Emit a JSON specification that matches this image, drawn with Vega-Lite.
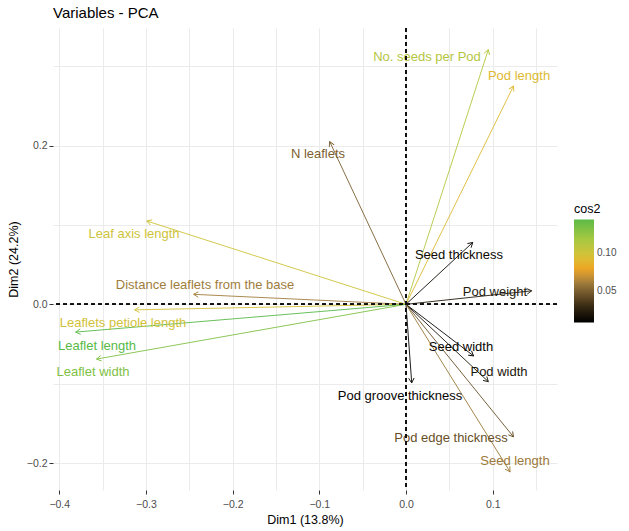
{
  "$schema": "https://vega.github.io/schema/vega-lite/v6.json",
  "width": 504,
  "height": 462,
  "autosize": {"type": "none"},
  "padding": {"left": 53, "top": 28, "right": 72, "bottom": 41},
  "title": {"text": "Variables - PCA", "anchor": "start", "frame": "group", "fontSize": 15, "fontWeight": "normal", "color": "#000000", "offset": 7},
  "config": {"font": "Liberation Sans", "view": {"stroke": null}},
  "data": {"values": [
    {"name": "No. seeds per Pod", "x": 0.095, "y": 0.321, "lx": 0.0242, "ly": 0.3117, "cos2": 0.1121},
    {"name": "Pod length", "x": 0.124, "y": 0.275, "lx": 0.1304, "ly": 0.2877, "cos2": 0.0910},
    {"name": "N leaflets", "x": -0.088, "y": 0.205, "lx": -0.1015, "ly": 0.1894, "cos2": 0.0498},
    {"name": "Seed thickness", "x": 0.077, "y": 0.078, "lx": 0.0611, "ly": 0.0621, "cos2": 0.0120},
    {"name": "Leaf axis length", "x": -0.299, "y": 0.105, "lx": -0.3137, "ly": 0.0886, "cos2": 0.1004},
    {"name": "Distance leaflets from the base", "x": -0.245, "y": 0.0126, "lx": -0.2318, "ly": 0.0243, "cos2": 0.0602},
    {"name": "Leaflets petiole length", "x": -0.313, "y": -0.007, "lx": -0.3264, "ly": -0.0236, "cos2": 0.0980},
    {"name": "Leaflet length", "x": -0.381, "y": -0.035, "lx": -0.3564, "ly": -0.0526, "cos2": 0.1464},
    {"name": "Leaflet width", "x": -0.357, "y": -0.069, "lx": -0.3610, "ly": -0.0854, "cos2": 0.1322},
    {"name": "Pod weight", "x": 0.145, "y": 0.017, "lx": 0.1027, "ly": 0.0155, "cos2": 0.0213},
    {"name": "Seed width", "x": 0.078, "y": -0.065, "lx": 0.0634, "ly": -0.0539, "cos2": 0.0103},
    {"name": "Pod width", "x": 0.095, "y": -0.0975, "lx": 0.1073, "ly": -0.0854, "cos2": 0.0185},
    {"name": "Pod groove thickness", "x": 0.0066, "y": -0.099, "lx": -0.0069, "ly": -0.1156, "cos2": 0.0098},
    {"name": "Pod edge thickness", "x": 0.124, "y": -0.167, "lx": 0.0519, "ly": -0.1685, "cos2": 0.0433},
    {"name": "Seed length", "x": 0.120, "y": -0.211, "lx": 0.1257, "ly": -0.1975, "cos2": 0.0589}
  ]},
  "transform": [
    {"calculate": "atan2(datum.x * 866.9, datum.y * 793.5) * 180 / PI", "as": "angle"}
  ],
  "layer": [
    {
      "mark": {"type": "rule", "strokeWidth": 0.9},
      "encoding": {
        "x": {"field": "x", "type": "quantitative",
          "scale": {"domain": [-0.4072, 0.1742], "nice": false, "zero": false},
          "axis": {
            "title": "Dim1 (13.8%)", "titleFontSize": 12.5, "titleFontWeight": "normal", "titleColor": "#000000", "titlePadding": 4,
            "values": [-0.4, -0.35, -0.3, -0.25, -0.2, -0.15, -0.1, -0.05, 0, 0.05, 0.1, 0.15],
            "labelExpr": "abs(datum.value * 10 - round(datum.value * 10)) > 0.01 ? '' : format(datum.value, '.1f')",
            "labelFlush": false, "labelOverlap": false, "labelFontSize": 10.5, "labelColor": "#4D4D4D", "labelPadding": 5,
            "domain": false, "grid": true, "gridColor": "#EBEBEB", "gridWidth": 1,
            "tickSize": 4, "tickWidth": 1,
            "tickColor": {"condition": {"test": "abs(datum.value * 10 - round(datum.value * 10)) > 0.01", "value": "transparent"}, "value": "#333333"}
          }
        },
        "y": {"field": "y", "type": "quantitative",
          "scale": {"domain": [-0.234, 0.3482], "nice": false, "zero": false},
          "axis": {
            "title": "Dim2 (24.2%)", "titleFontSize": 12.5, "titleFontWeight": "normal", "titleColor": "#000000", "titlePadding": 6,
            "values": [-0.2, -0.1, 0, 0.1, 0.2, 0.3],
            "labelExpr": "abs(datum.value * 5 - round(datum.value * 5)) > 0.01 ? '' : format(datum.value, '.1f')",
            "labelFlush": false, "labelOverlap": false, "labelFontSize": 10.5, "labelColor": "#4D4D4D", "labelPadding": 2,
            "domain": false, "grid": true, "gridColor": "#EBEBEB", "gridWidth": 1,
            "tickSize": 4, "tickWidth": 1,
            "tickColor": {"condition": {"test": "abs(datum.value * 5 - round(datum.value * 5)) > 0.01", "value": "transparent"}, "value": "#333333"}
          }
        },
        "x2": {"datum": 0},
        "y2": {"datum": 0},
        "stroke": {
          "field": "cos2", "type": "quantitative",
          "scale": {
            "domain": [0.00749, 0.03, 0.05, 0.065, 0.077, 0.09, 0.10, 0.12, 0.145],
            "range": ["#000000", "#3A2C14", "#7D6030", "#B08A40", "#F0A020", "#E0B830", "#CFC33A", "#A3C842", "#5CBA47"],
            "interpolate": "rgb"
          },
          "legend": null
        }
      }
    },
    {
      "mark": {"type": "point", "shape": "M-0.577,1L0,0L0.577,1", "filled": false, "fill": null, "strokeWidth": 0.9, "size": 90, "opacity": 1},
      "encoding": {
        "x": {"field": "x", "type": "quantitative"},
        "y": {"field": "y", "type": "quantitative"},
        "angle": {"field": "angle", "type": "quantitative", "scale": null},
        "stroke": {"field": "cos2", "type": "quantitative", "legend": null}
      }
    },
    {
      "mark": {"type": "text", "fontSize": 13, "align": "center", "baseline": "middle"},
      "encoding": {
        "x": {"field": "lx", "type": "quantitative"},
        "y": {"field": "ly", "type": "quantitative"},
        "text": {"field": "name", "type": "nominal"},
        "fill": {"field": "cos2", "type": "quantitative",
          "scale": {
            "domain": [0.0075, 0.03, 0.05, 0.065, 0.077, 0.09, 0.10, 0.12, 0.145],
            "range": ["#000000", "#3A2C14", "#7D6030", "#B08A40", "#F0A020", "#E0B830", "#CFC33A", "#A3C842", "#5CBA47"],
            "interpolate": "rgb"
          },
          "legend": {
            "orient": "none", "legendX": 521, "legendY": 175, "direction": "vertical",
            "title": "cos2", "titleFontSize": 12.5, "titleFontWeight": "normal", "titleColor": "#000000", "titlePadding": 4,
            "gradientLength": 103, "gradientThickness": 20, "gradientStrokeWidth": 0,
            "values": [0.05, 0.10], "format": ".2f", "labelFontSize": 10, "labelColor": "#4D4D4D", "labelOffset": 3
          }
        }
      }
    },
    {
      "mark": {"type": "rule", "color": "#111111", "strokeDash": [4, 3], "strokeWidth": 0.9},
      "encoding": {"x": {"datum": 0, "type": "quantitative"}}
    },
    {
      "mark": {"type": "rule", "color": "#111111", "strokeDash": [4, 3], "strokeWidth": 0.9},
      "encoding": {"y": {"datum": 0, "type": "quantitative"}}
    }
  ]
}
